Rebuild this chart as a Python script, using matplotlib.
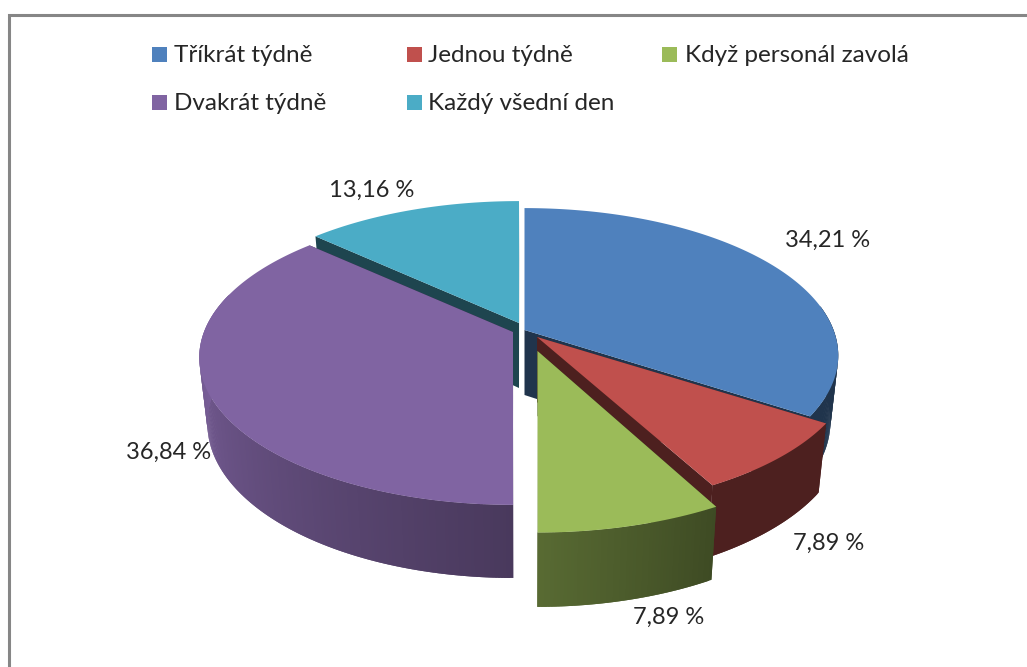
import numpy as np
import matplotlib
matplotlib.use("Agg")
import matplotlib.pyplot as plt
from matplotlib.patches import Rectangle

# ---- data ----
categories = ["Tříkrát týdně", "Jednou týdně", "Když personál zavolá", "Dvakrát týdně", "Každý všední den"]
shares = [34.21, 7.89, 7.89, 36.84, 13.16]
colors = ["#4F81BD", "#C0504D", "#9BBB59", "#8064A2", "#4BACC6"]

# ---- layout (pixels) ----
W, H = 1027, 667
RX, RY, K = 309.0, 143.0, 0.173
apex = {0: (524.5, 330), 1: (537, 337), 2: (537.5, 351), 3: (513, 332), 4: (519, 323)}
scale = {0: (1, 1), 1: (1.012, 1.0), 2: (1.03, 1.05), 3: (1, 1), 4: (1, 1)}
label_pos = {0: (828, 240), 1: (829, 543), 2: (669, 617), 3: (169, 452), 4: (372, 190)}
legend_pos = {0: (152, 47, 174, 55), 1: (407, 47, 428, 55), 2: (662, 47, 685, 55),
              3: (152, 95, 174, 104), 4: (407, 95, 428, 104)}
draw_order = [4, 0, 3, 1, 2]

plt.rcParams["font.family"] = ["Lato", "DejaVu Sans"]
fig = plt.figure(figsize=(W / 100, H / 100), dpi=100, facecolor="white")
ax = fig.add_axes([0, 0, 1, 1])
ax.set_xlim(0, W)
ax.set_ylim(H, 0)
ax.axis("off")


def rim(i, theta):
    """Top-rim pixel position of slice i at clockwise angle theta (deg from 12 o'clock)."""
    t = np.radians(theta)
    X, Y = np.sin(t), np.cos(t)
    s = 1 / (1 + K * Y)
    ax_, ay_ = apex[i]
    return ax_ + scale[i][0] * RX * X * s, ay_ - scale[i][1] * RY * Y * s


def drop(x, y):
    """Matching point on the lower rim (perspective: front is deeper, x pulled inward)."""
    return 525 + (x - 525) * 0.975, y + 65 + 0.046 * (y - 330)


def shade(hexcol, f):
    rgb = np.array(matplotlib.colors.to_rgb(hexcol))
    return tuple(rgb * f)


def shade_factor(theta):
    return np.interp(theta, [123, 151.6, 180, 270, 360], [0.40, 0.40, 0.57, 0.95, 0.95])


edges = np.concatenate([[0], np.cumsum(shares)]) / sum(shares) * 360
zo = 2
for i in draw_order:
    a0, a1 = edges[i], edges[i + 1]
    thetas = np.linspace(a0, a1, max(int(a1 - a0) * 2, 4) + 1)
    pts = [rim(i, th) for th in thetas]
    apx = apex[i]
    apx_b = (apx[0], apx[1] + 65)

    # cut walls first; the outer wall and top face paint over what they hide
    wall_col = shade(colors[i], 0.40)
    for p in (pts[0], pts[-1]):
        pb = drop(*p)
        ax.fill([apx[0], p[0], pb[0], apx_b[0]], [apx[1], p[1], pb[1], apx_b[1]],
                facecolor=wall_col, edgecolor="none", lw=0, zorder=zo)
    # outer wall, front-facing part only, in overlapping strips (no seams)
    n = len(pts)
    for j in range(n - 1):
        if not 80 <= thetas[j] <= 285:
            continue
        k = min(j + 2, n - 1)
        seg = pts[j:k + 1]
        low = [drop(*p) for p in seg][::-1]
        c = shade(colors[i], float(shade_factor((thetas[j] + thetas[j + 1]) / 2)))
        ax.fill([p[0] for p in seg + low], [p[1] for p in seg + low],
                facecolor=c, edgecolor="none", lw=0, zorder=zo)
    zo += 1
    # top face
    ax.fill([apx[0]] + [p[0] for p in pts], [apx[1]] + [p[1] for p in pts],
            facecolor=colors[i], edgecolor="none", lw=0, zorder=zo)
    zo += 1

# data labels
for i, (x, y) in label_pos.items():
    txt = f"{shares[i]:.2f} %".replace(".", ",")
    ax.text(x, y, txt, ha="center", va="center", fontsize=17, color="#262626", zorder=50)

# legend
for i, (sx, sy, tx, ty) in legend_pos.items():
    ax.add_patch(Rectangle((sx, sy), 15, 15, facecolor=colors[i], edgecolor="none", zorder=50))
    ax.text(tx, ty, categories[i], ha="left", va="center", fontsize=17.5, color="#262626", zorder=50)

# chart frame
ax.plot([8.5, 8.5, W], [H, 14.5, 14.5], color="#868686", lw=2.2, solid_joinstyle="miter", zorder=60, clip_on=False)

fig.savefig("out.png", dpi=100, facecolor="white")
